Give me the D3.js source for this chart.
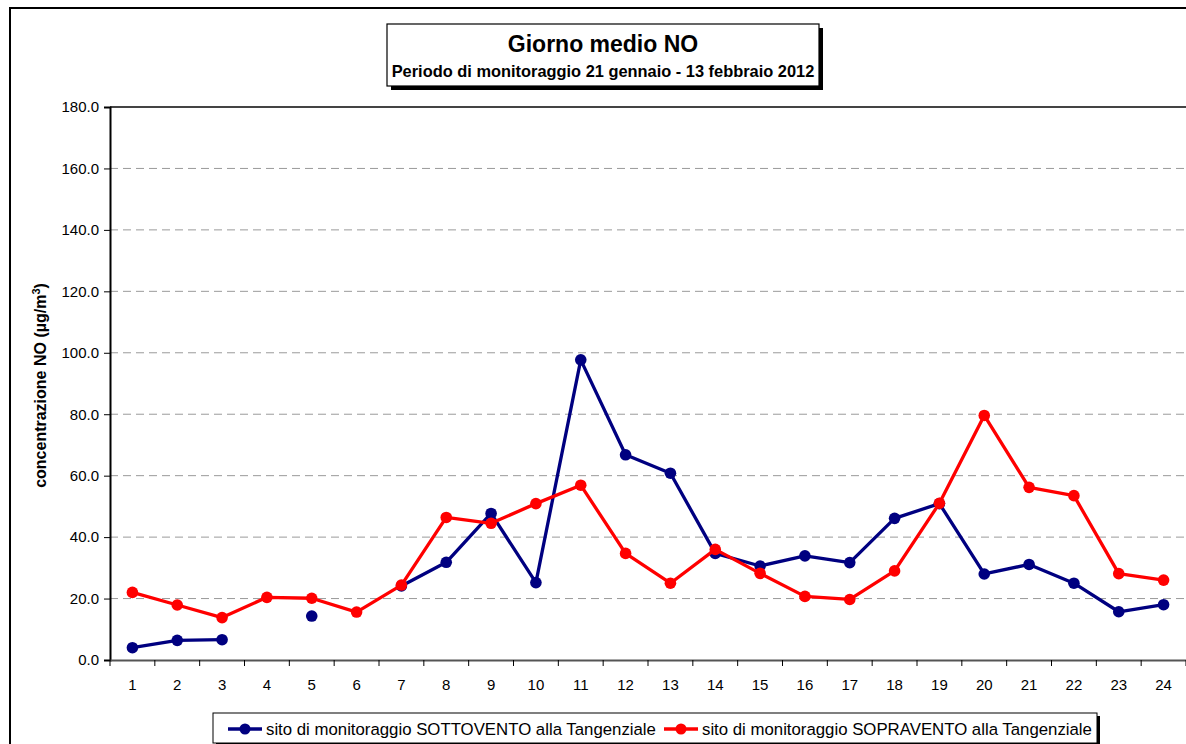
<!DOCTYPE html>
<html>
<head>
<meta charset="utf-8">
<script src="https://cdn.jsdelivr.net/npm/d3@7"></script>
<style>
  body { margin: 0; background: #fff; }
  svg { display: block; font-family: "Liberation Sans", Arial, sans-serif; }
</style>
</head>
<body>
<svg width="1186" height="744"></svg>
<script>
const W = 1186, H = 744;

// data
var days = d3.range(1, 25);
var sottovento = [4.0, 6.4, 6.6, null, 14.3, null, 24.1, 31.8, 47.7, 25.2, 97.7, 66.8,
                  60.8, 34.7, 30.6, 33.9, 31.7, 46.1, 50.9, 28.0, 31.1, 25.0, 15.7, 18.0];
var sopravento = [22.0, 17.9, 13.8, 20.4, 20.1, 15.6, 24.4, 46.4, 44.5, 50.9, 56.9, 34.7,
                  25.0, 36.0, 28.2, 20.7, 19.7, 29.0, 51.0, 79.6, 56.2, 53.5, 28.1, 26.0];
var yTicks = [0, 20, 40, 60, 80, 100, 120, 140, 160, 180];

var series = [
  { name: 'sito di monitoraggio SOTTOVENTO alla Tangenziale', values: sottovento, color: '#000080' },
  { name: 'sito di monitoraggio SOPRAVENTO alla Tangenziale', values: sopravento, color: '#ff0000' }
];

var svg = d3.select('svg');

// outer frame
svg.append('rect').attr('x', 10).attr('y', 8).attr('width', 1300).attr('height', 900)
  .attr('fill', 'none').attr('stroke', '#000').attr('stroke-width', 2);

const pL = 110, pR = 1186, pT = 107, pB = 660;

var x = d3.scaleBand().domain(days).range([pL, pR]).padding(0);
var y = d3.scaleLinear().domain([0, 180]).range([pB, pT]);

// grid
svg.append('g').selectAll('line').data(yTicks.filter(d => d > 0 && d < 180)).enter()
  .append('line')
  .attr('x1', pL).attr('x2', pR)
  .attr('y1', d => y(d)).attr('y2', d => y(d))
  .attr('stroke', '#9a9a9a').attr('stroke-dasharray', '8,5');

// plot top border
svg.append('line').attr('x1', pL).attr('x2', pR).attr('y1', y(180)).attr('y2', y(180))
  .attr('stroke', '#444').attr('stroke-width', 2);

// y axis
var yAxis = svg.append('g').attr('transform', `translate(${pL},0)`)
  .call(d3.axisLeft(y).tickValues(yTicks).tickFormat(d3.format('.1f')).tickSize(6).tickPadding(5));
yAxis.select('.domain').attr('stroke', '#000').attr('stroke-width', 2);
yAxis.selectAll('.tick line').attr('stroke', '#000');
yAxis.selectAll('text').attr('font-size', 15).attr('fill', '#000')
  .attr('font-family', '"Liberation Sans", Arial, sans-serif');

// x axis
var xAxis = svg.append('g').attr('transform', `translate(0,${pB})`)
  .call(d3.axisBottom(x).tickSize(0).tickPadding(19));
xAxis.select('.domain').attr('stroke', '#555').attr('stroke-width', 2);
xAxis.selectAll('text').attr('font-size', 15).attr('fill', '#000')
  .attr('font-family', '"Liberation Sans", Arial, sans-serif');
var edges = days.map(d => x(d)).concat([x(days[days.length - 1]) + x.bandwidth()]);
xAxis.selectAll('.edge').data(edges).enter().append('line')
  .attr('x1', d => d).attr('x2', d => d).attr('y1', 0).attr('y2', 6)
  .attr('stroke', '#000');

// y label
svg.append('text')
  .attr('transform', `translate(46,${(pT + pB) / 2 + 2}) rotate(-90)`)
  .attr('text-anchor', 'middle')
  .attr('font-size', 16).attr('font-weight', 'bold')
  .html('concentrazione NO (µg/m<tspan dy="-6" font-size="11">3</tspan><tspan dy="6">)</tspan>');

// lines and markers
var line = d3.line()
  .defined(d => d != null)
  .x((d, i) => x(days[i]) + x.bandwidth() / 2)
  .y(d => y(d));

series.forEach(s => {
  var g = svg.append('g');
  g.append('path').attr('d', line(s.values))
    .attr('fill', 'none').attr('stroke', s.color).attr('stroke-width', 3.3)
    .attr('stroke-linejoin', 'round');
  g.selectAll('circle').data(s.values.map((v, i) => ({ v: v, d: days[i] })).filter(p => p.v != null))
    .enter().append('circle')
    .attr('cx', p => x(p.d) + x.bandwidth() / 2)
    .attr('cy', p => y(p.v))
    .attr('r', 5.8)
    .attr('fill', s.color);
});

// title box
var tb = svg.append('g');
tb.append('rect').attr('x', 391).attr('y', 28).attr('width', 432).attr('height', 62).attr('fill', '#000');
tb.append('rect').attr('x', 387).attr('y', 24).attr('width', 432).attr('height', 62)
  .attr('fill', '#fff').attr('stroke', '#000').attr('stroke-width', 1.2);
tb.append('text').attr('x', 603).attr('y', 52).attr('text-anchor', 'middle')
  .attr('font-size', 23).attr('font-weight', 'bold').text('Giorno medio NO');
tb.append('text').attr('x', 603).attr('y', 77).attr('text-anchor', 'middle')
  .attr('font-size', 16.4).attr('font-weight', 'bold')
  .text('Periodo di monitoraggio 21 gennaio - 13 febbraio 2012');

// legend
var lg = svg.append('g');
lg.append('rect').attr('x', 216).attr('y', 716).attr('width', 884).attr('height', 30).attr('fill', '#000');
lg.append('rect').attr('x', 213).attr('y', 713).attr('width', 884).attr('height', 30)
  .attr('fill', '#fff').attr('stroke', '#000').attr('stroke-width', 1);
var legendX = [228, 664];
series.forEach((s, i) => {
  var gx = legendX[i];
  lg.append('line').attr('x1', gx).attr('x2', gx + 34).attr('y1', 729).attr('y2', 729)
    .attr('stroke', s.color).attr('stroke-width', 3.3);
  lg.append('circle').attr('cx', gx + 17).attr('cy', 729).attr('r', 5.5).attr('fill', s.color);
  lg.append('text').attr('x', gx + 38).attr('y', 735).attr('font-size', 16.8).text(s.name);
});
</script>
</body>
</html>
